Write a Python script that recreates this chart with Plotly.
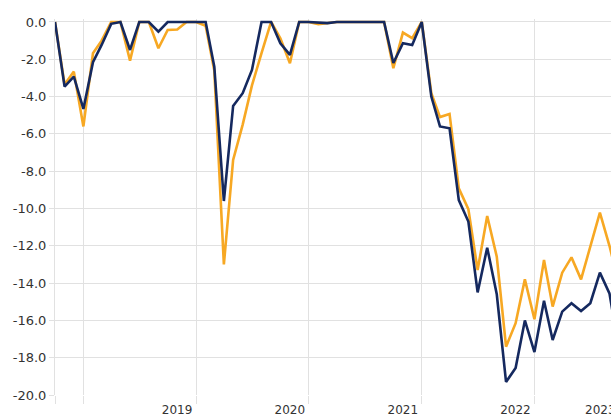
import plotly.graph_objects as go
import pandas as pd

months = pd.date_range("2017-10-01", periods=61, freq="MS").strftime("%Y-%m-%d").tolist()

navy_values = [
    0.0, -3.46, -2.93, -4.66, -2.16, -1.23, -0.10, 0.0, -1.50, 0.0,
    0.0, -0.52, 0.0, 0.0, 0.0, 0.0, 0.0, -2.39, -9.60, -4.50,
    -3.82, -2.57, 0.0, 0.0, -1.14, -1.76, 0.0, 0.0, -0.05, -0.06,
    0.0, 0.0, 0.0, 0.0, 0.0, 0.0, -2.20, -1.14, -1.23, 0.0,
    -4.00, -5.60, -5.70, -9.55, -10.70, -14.50, -12.10, -14.60, -19.30, -18.55,
    -16.00, -17.70, -14.95, -17.05, -15.53, -15.08, -15.50, -15.08, -13.44, -14.55,
    -17.50,
]

orange_values = [
    0.0, -3.35, -2.66, -5.60, -1.68, -1.00, 0.0, 0.0, -2.07, 0.0,
    0.0, -1.41, -0.43, -0.40, 0.0, 0.0, -0.20, -2.60, -13.00, -7.40,
    -5.50, -3.40, -1.67, 0.0, -0.87, -2.21, 0.0, 0.0, -0.12, -0.05,
    0.0, 0.0, 0.0, 0.0, 0.0, 0.0, -2.48, -0.57, -0.87, 0.0,
    -3.82, -5.10, -4.93, -8.92, -10.04, -13.30, -10.40, -12.58, -17.41, -16.15,
    -13.80, -15.94, -12.76, -15.26, -13.44, -12.62, -13.80, -12.00, -10.22, -12.00,
    -14.00,
]

x_tick_vals = ["2017-10-01", "2018-01-01", "2019-01-01", "2020-01-01", "2021-01-01", "2022-01-01"]
x_tick_text = ["", "", "2019", "2020", "2021", "2022"]
y_tick_vals = [0, -2, -4, -6, -8, -10, -12, -14, -16, -18, -20]
y_tick_text = ["0.0", "-2.0", "-4.0", "-6.0", "-8.0", "-10.0", "-12.0", "-14.0", "-16.0", "-18.0", "-20.0"]

GRID = "#e1e1e1"
FONT = "DejaVu Sans"

fig = go.Figure()
fig.add_trace(go.Scatter(x=months, y=orange_values, mode="lines",
                         line=dict(color="#f7a823", width=2.6), name="Orange"))
fig.add_trace(go.Scatter(x=months, y=navy_values, mode="lines",
                         line=dict(color="#15295f", width=2.6), name="Navy"))

fig.update_layout(
    width=611, height=415,
    margin=dict(l=55, r=0, t=19, b=20, autoexpand=False),
    paper_bgcolor="white", plot_bgcolor="white",
    showlegend=False,
    font=dict(family=FONT, size=12, color="#333333"),
    annotations=[dict(text="2023", xref="paper", yref="paper", x=0.982, y=0,
                      xanchor="center", yanchor="top", yshift=-6, showarrow=False,
                      font=dict(family=FONT, size=12, color="#333333"))],
)
fig.update_xaxes(
    type="date", range=["2017-10-01", "2022-09-06"],
    tickvals=x_tick_vals, ticktext=x_tick_text,
    showgrid=True, gridcolor=GRID, gridwidth=1,
    ticks="outside", ticklen=8, tickcolor=GRID, tickwidth=1,
    ticklabelshift=-19, ticklabelstandoff=-4,
    zeroline=False, showline=False, automargin=False,
    tickfont=dict(family=FONT, size=12, color="#333333"),
)
fig.update_yaxes(
    range=[-20, 0.16],
    tickvals=y_tick_vals, ticktext=y_tick_text,
    showgrid=True, gridcolor=GRID, gridwidth=1,
    ticks="outside", ticklen=5, tickcolor=GRID, tickwidth=1,
    zeroline=False, showline=True, linecolor=GRID, linewidth=1,
    automargin=False,
    tickfont=dict(family=FONT, size=13, color="#333333"),
)

fig.write_html(
    "out.html",
    config={"displayModeBar": False},
    post_script="document.body.style.margin='0';document.body.style.overflow='hidden';",
)
